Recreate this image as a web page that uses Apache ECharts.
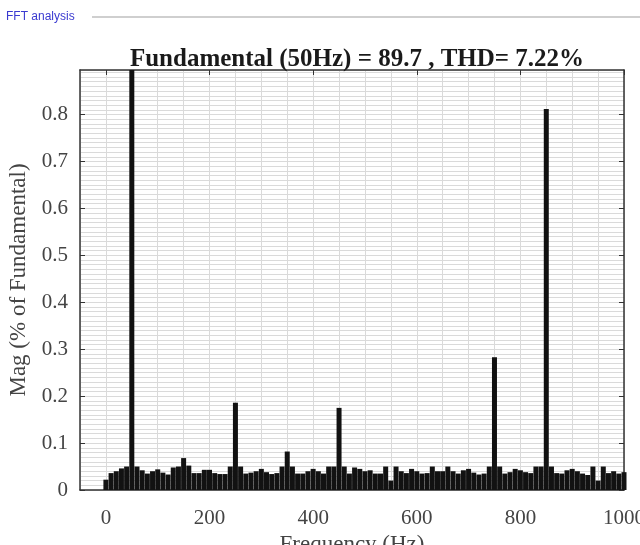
<!DOCTYPE html>
<html>
<head>
<meta charset="utf-8">
<script src="https://cdn.jsdelivr.net/npm/echarts@6/dist/echarts.min.js"></script>
<style>
html,body{margin:0;padding:0;background:#fff;}
#chart{width:640px;height:545px;}
</style>
</head>
<body>
<div id="chart"></div>
<script>
// Frequencies (Hz) of the FFT bins
const freqs = [0,10,20,30,40,50,60,70,80,90,100,110,120,130,140,150,160,170,180,190,200,210,220,230,240,250,260,270,280,290,300,310,320,330,340,350,360,370,380,390,400,410,420,430,440,450,460,470,480,490,500,510,520,530,540,550,560,570,580,590,600,610,620,630,640,650,660,670,680,690,700,710,720,730,740,750,760,770,780,790,800,810,820,830,840,850,860,870,880,890,900,910,920,930,940,950,960,970,980,990,1000];
// Magnitude (% of fundamental)
const mags = [0.022,0.036,0.040,0.046,0.050,1.000,0.050,0.042,0.035,0.040,0.044,0.037,0.033,0.048,0.050,0.068,0.052,0.036,0.036,0.043,0.043,0.036,0.034,0.034,0.050,0.186,0.050,0.035,0.037,0.040,0.045,0.038,0.034,0.036,0.050,0.082,0.050,0.035,0.035,0.040,0.045,0.040,0.035,0.050,0.050,0.175,0.050,0.035,0.048,0.045,0.040,0.042,0.035,0.035,0.050,0.020,0.050,0.040,0.036,0.045,0.040,0.035,0.036,0.050,0.040,0.040,0.050,0.040,0.035,0.042,0.045,0.037,0.033,0.035,0.050,0.283,0.050,0.035,0.038,0.045,0.042,0.038,0.036,0.050,0.050,0.812,0.050,0.036,0.035,0.042,0.045,0.040,0.035,0.032,0.050,0.020,0.050,0.036,0.040,0.035,0.038];
const xTicks = [0,200,400,600,800,1000];
const yTicks = [0,0.1,0.2,0.3,0.4,0.5,0.6,0.7,0.8];
const titleText = 'Fundamental (50Hz) = 89.7 , THD= 7.22%';
const xName = 'Frequency (Hz)';
const yName = 'Mag (% of Fundamental)';
const panelTitle = 'FFT analysis';

const X_MIN = -50, X_MAX = 1000, Y_MIN = 0, Y_MAX = 0.895;
const serif = 'Liberation Serif';
const frameColor = '#333';
const gridColor = '#dadada';

const chart = echarts.init(document.getElementById('chart'), null, {renderer: 'canvas'});
const option = {
  backgroundColor: '#fff',
  animation: false,
  title: {
    text: titleText,
    left: 352,
    textAlign: 'center',
    top: 42,
    textStyle: {fontFamily: serif, fontWeight: 'bold', fontSize: 25, color: '#1a1a1a'}
  },
  graphic: [
    {type: 'text', left: 6, top: 11, style: {text: panelTitle, font: '12px Liberation Sans', fill: '#3a3ad0'}},
    {type: 'line', shape: {x1: 92, y1: 17, x2: 640, y2: 17}, style: {stroke: '#cfcfcf', lineWidth: 2}}
  ],
  grid: {left: 80, right: 16, top: 70, bottom: 55, containLabel: false, outerBoundsMode: 'none'},
  xAxis: [
    {
      type: 'value', min: X_MIN, max: X_MAX, interval: 50, position: 'bottom',
      axisLine: {show: true, onZero: false, lineStyle: {color: frameColor, width: 1.5}},
      axisTick: {show: false}, axisLabel: {show: false},
      splitLine: {show: true, lineStyle: {color: gridColor, width: 1}}
    },
    {
      type: 'value', min: X_MIN, max: X_MAX, position: 'bottom',
      axisLine: {show: false, onZero: false},
      axisTick: {show: true, inside: true, length: 5, customValues: xTicks, lineStyle: {color: frameColor}},
      axisLabel: {show: true, customValues: xTicks, margin: 18, fontFamily: serif, fontSize: 21, color: '#444',
        formatter: v => String(Math.round(v))},
      splitLine: {show: false},
      name: xName, nameLocation: 'middle', nameGap: 36,
      nameTextStyle: {fontFamily: serif, fontSize: 23, color: '#444'}
    },
    {
      type: 'value', min: X_MIN, max: X_MAX, position: 'top',
      axisLine: {show: true, onZero: false, lineStyle: {color: frameColor, width: 1.5}},
      axisTick: {show: true, inside: true, length: 5, customValues: xTicks, lineStyle: {color: frameColor}},
      axisLabel: {show: false}, splitLine: {show: false}
    }
  ],
  yAxis: [
    {
      type: 'value', min: Y_MIN, max: Y_MAX, interval: 0.01, position: 'left',
      axisLine: {show: true, onZero: false, lineStyle: {color: frameColor, width: 1.5}},
      axisTick: {show: false}, axisLabel: {show: false},
      splitLine: {show: true, lineStyle: {color: gridColor, width: 1}}
    },
    {
      type: 'value', min: Y_MIN, max: Y_MAX, position: 'left',
      axisLine: {show: false, onZero: false},
      axisTick: {show: true, inside: true, length: 5, customValues: yTicks, lineStyle: {color: frameColor}},
      axisLabel: {show: true, customValues: yTicks, margin: 12, fontFamily: serif, fontSize: 21, color: '#444',
        formatter: v => (Math.round(v * 10) / 10).toString()},
      splitLine: {show: false},
      name: yName, nameLocation: 'middle', nameGap: 46, nameRotate: 90,
      nameTextStyle: {fontFamily: serif, fontSize: 23, color: '#444'}
    },
    {
      type: 'value', min: Y_MIN, max: Y_MAX, position: 'right',
      axisLine: {show: true, onZero: false, lineStyle: {color: frameColor, width: 1.5}},
      axisTick: {show: true, inside: true, length: 5, customValues: yTicks, lineStyle: {color: frameColor}},
      axisLabel: {show: false}, splitLine: {show: false}
    }
  ],
  series: [{
    type: 'bar',
    xAxisIndex: 0,
    yAxisIndex: 0,
    data: freqs.map((f, i) => [f, mags[i]]),
    barWidth: 5,
    clip: true,
    itemStyle: {color: '#121212'}
  }]
};
chart.setOption(option);
</script>
</body>
</html>
